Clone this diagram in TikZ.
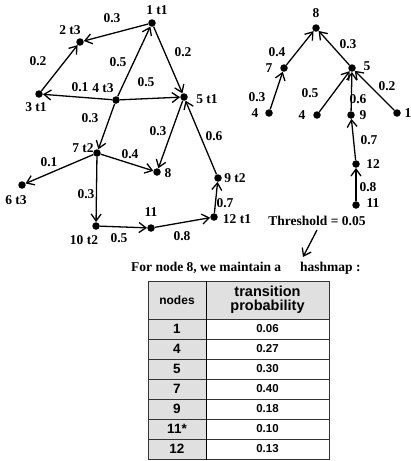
\documentclass[tikz,border=0pt]{standalone}
\usepackage{fontspec}
\setmainfont{Liberation Serif}
\newfontfamily\tabfont{Liberation Sans}
\usetikzlibrary{arrows.meta}
\begin{document}
\begin{tikzpicture}[x=1pt,y=-1pt,
 dot/.style={circle,fill=black,inner sep=0pt,minimum size=7.5pt},
 lbl/.style={font=\bfseries\fontsize{13.5}{14}\selectfont,inner sep=0pt},
 arr/.style={line width=1.3pt,-{Straight Barb[length=7pt,width=10pt,line width=1.3pt]}},
 cell/.style={draw=black!80,line width=1pt,inner sep=0pt,anchor=center},
 keycell/.style={cell,fill=black!12,minimum width=58pt,minimum height=20pt,font=\tabfont\bfseries\fontsize{13.5}{14}\selectfont},
 valcell/.style={cell,fill=white,minimum width=123pt,minimum height=20pt,font=\tabfont\bfseries\fontsize{11.5}{12}\selectfont},
 ]
\useasboundingbox (0,0) rectangle (411,461);
% ---------- left graph ----------
\node[dot] (a1) at (152,23) {};
\node[dot] (a2) at (80,42) {};
\node[dot] (a3) at (39,94) {};
\node[dot] (a4) at (116,100) {};
\node[dot] (a5) at (184,97) {};
\node[dot] (a7) at (97,153) {};
\node[dot] (a8) at (157,172) {};
\node[dot] (a6) at (22,185) {};
\node[dot] (a10) at (96,226) {};
\node[dot] (a11) at (151,228) {};
\node[dot] (a12) at (214,217) {};
\node[dot] (a9) at (218,178) {};
\node[lbl] (n1) at (157,10) {1 t1};
\node[lbl] (n2) at (70,30) {2 t3};
\node[lbl] (n3) at (36,107) {3 t1};
\node[lbl] (n4) at (103,88) {4 t3};
\node[lbl] (n5) at (207,99) {5 t1};
\node[lbl] (n7) at (83,148) {7 t2};
\node[lbl] (n8) at (168,173) {8};
\node[lbl] (n6) at (16,200) {6 t3};
\node[lbl] (n10) at (84,240) {10 t2};
\node[lbl] (n11) at (151,212) {11};
\node[lbl] (n12) at (237,219) {12 t1};
\node[lbl] (n9) at (235,178) {9 t2};
\draw[arr] (a1) -- (a2);
\draw[arr] (a3) -- (a2);
\draw[arr] (a4) -- (a1);
\draw[arr] (a1) -- (a5);
\draw[arr] (a4) -- (a3);
\draw[arr] (a4) -- (a5);
\draw[arr] (a4) -- (a7);
\draw[arr] (a5) -- (a8);
\draw[arr] (a9) -- (a5);
\draw[arr] (a7) -- (a6);
\draw[arr] (a7) -- (a8);
\draw[arr] (a7) -- (a10);
\draw[arr] (a10) -- (a11);
\draw[arr] (a11) -- (a12);
\draw[arr] (a12) -- (a9);
\node[lbl] (w12) at (112,18) {0.3};
\node[lbl] (w32) at (38,61) {0.2};
\node[lbl] (w41) at (118,62) {0.5};
\node[lbl] (w15) at (183,52) {0.2};
\node[lbl] (w43) at (80,87) {0.1};
\node[lbl] (w45) at (146,82) {0.5};
\node[lbl] (w47) at (90,118) {0.3};
\node[lbl] (w58) at (158,131) {0.3};
\node[lbl] (w95) at (214,136) {0.6};
\node[lbl] (w76) at (49,162) {0.1};
\node[lbl] (w78) at (130,154) {0.4};
\node[lbl] (w710) at (86,194) {0.3};
\node[lbl] (w1011) at (119,238) {0.5};
\node[lbl] (w1112) at (182,236) {0.8};
\node[lbl] (w129) at (225,203) {0.7};
% ---------- right tree ----------
\node[dot] (b8) at (316,28) {};
\node[dot] (b7) at (284,68) {};
\node[dot] (b4a) at (269,113) {};
\node[dot] (b5) at (352,68) {};
\node[dot] (b4b) at (317,115) {};
\node[dot] (b9) at (351,115) {};
\node[dot] (b1) at (397,113) {};
\node[dot] (b12) at (356,164) {};
\node[dot] (b11) at (356,205) {};
\node[lbl] (m8) at (316,13) {8};
\node[lbl] (m7) at (269,68) {7};
\node[lbl] (m4a) at (255,113) {4};
\node[lbl] (m5) at (367,66) {5};
\node[lbl] (m4b) at (302,115) {4};
\node[lbl] (m9) at (363,115) {9};
\node[lbl] (m1) at (408,113) {1};
\node[lbl] (m12) at (373,164) {12};
\node[lbl] (m11) at (373,203) {11};
\draw[arr] (b7) -- (b8);
\draw[arr] (b4a) -- (b7);
\draw[arr] (b5) -- (b8);
\draw[arr] (b4b) -- (b5);
\draw[arr] (b9) -- (b5);
\draw[arr] (b1) -- (b5);
\draw[arr] (b12) -- (b9);
\draw[arr] (b11) -- (b12);
\node[lbl] (v78) at (277,52) {0.4};
\node[lbl] (v47) at (257,97) {0.3};
\node[lbl] (v58) at (348,44) {0.3};
\node[lbl] (v45) at (310,93) {0.5};
\node[lbl] (v95) at (358,99) {0.6};
\node[lbl] (v15) at (387,86) {0.2};
\node[lbl] (v129) at (369,140) {0.7};
\node[lbl] (v1112) at (368,187) {0.8};
% ---------- threshold and caption ----------
\node[lbl] (thr) at (317,221) {Threshold = 0.05};
\coordinate (tip) at (303,257);
\draw[arr] (317,230) -- (tip);
\node[lbl,anchor=west] (cap1) at (131,268) {For node 8, we maintain a};
\node[lbl,anchor=west] (cap2) at (300,268) {hashmap :};
% ---------- table ----------
\node[keycell,minimum height=38pt,font=\tabfont\bfseries\fontsize{12}{13}\selectfont] (hk) at (177,300) {nodes};
\node[valcell,fill=black!12,minimum height=38pt,font=\tabfont\bfseries\fontsize{14.5}{15.5}\selectfont] (hv) at (267.5,300) {\begin{tabular}{@{}c@{}}transition\\[-1.5pt]probability\end{tabular}};
\foreach \n/\v [count=\i] in {1/0.06,4/0.27,5/0.30,7/0.40,9/0.18,11*/0.10,12/0.13} {
  \node[keycell] (k\i) at (177,{309+20*\i}) {\n};
  \node[valcell] (v\i) at (267.5,{309+20*\i}) {\v};
}
\draw[line width=1.4pt] (hk.north east) -- (k7.south east);
\end{tikzpicture}
\end{document}
